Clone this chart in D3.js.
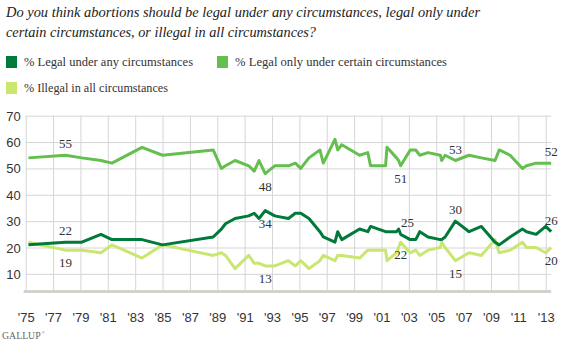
<!DOCTYPE html>
<html>
<head>
<meta charset="utf-8">
<script src="https://cdn.jsdelivr.net/npm/d3@7"></script>
<style>
  body { margin: 0; background: #fff; }
  svg { display: block; font-family: "Liberation Serif", "DejaVu Serif", serif; }
  .grid line { stroke: #d6d6d6; stroke-width: 1; }
  .grid path { display: none; }
  .axis text { fill: #333; font-size: 13px; }
  .axis path, .axis line { display: none; }
  .label { fill: #333; font-size: 13px; text-anchor: middle; }
</style>
</head>
<body>
<svg id="chart" width="565" height="351"></svg>
<script>
// survey dates (decimal years) and shares of respondents
var dates = [1975.2, 1977.9, 1979.1, 1980.5, 1981.3, 1983.5, 1985.0, 1988.7, 1989.3, 1989.6,
  1990.3, 1991.3, 1991.7, 1992.05, 1992.5, 1993.2, 1994.2, 1994.7, 1995.1, 1995.7,
  1996.5, 1996.75, 1997.6, 1997.8, 1998.1, 1999.4, 2000.0, 2000.2, 2001.3, 2001.4,
  2002.1, 2002.25, 2002.4, 2003.1, 2003.5, 2003.8, 2004.4, 2005.3, 2005.4, 2005.65,
  2006.4, 2007.4, 2008.3, 2009.3, 2009.6, 2010.4, 2011.3, 2011.6, 2012.3, 2013.0, 2013.4]

var legalAny = [21, 22, 22, 25, 23, 23, 21, 24, 27, 29,
  31, 32, 33, 31, 34, 32, 31, 33, 33, 31,
  26, 24, 22, 26, 23, 27, 26, 28, 26, 26,
  26, 27, 25, 23, 23, 26, 24, 23, 23, 24,
  30, 26, 28, 22, 21, 24, 27, 26, 25, 28, 26]

var legalCertain = [54, 55, 54, 53, 52, 58, 55, 57, 50, 51,
  53, 51, 49, 53, 48, 51, 51, 52, 50, 54,
  57, 52, 61, 57, 59, 55, 56, 51, 51, 58,
  54, 53, 51, 57, 57, 55, 56, 55, 53, 55,
  53, 55, 54, 53, 57, 55, 50, 51, 52, 52, 52]

var illegalAll = [22, 19, 19, 18, 21, 16, 21, 17, 18, 17,
  12, 17, 14, 14, 13, 13, 15, 13, 15, 12,
  15, 17, 15, 17, 17, 16, 19, 19, 19, 15,
  18, 20, 22, 18, 19, 17, 19, 20, 22, 20,
  15, 18, 17, 23, 18, 19, 22, 20, 20, 18, 20]

var seriesNames = ['% Legal under any circumstances', '% Legal only under certain circumstances', '% Illegal in all circumstances']
var seriesColors = ['#007a3a', '#64bf4f', '#c9e770']
var yTicks = [10, 20, 30, 40, 50, 60, 70]
var xTicks = d3.range(1975, 2014, 2)

// [date, value, series index, above(-1) / below(1)]
var callouts = [
  [1977.9, 55, 1, -1], [1977.9, 22, 0, -1], [1977.9, 19, 2, 1],
  [1992.5, 48, 1, 1], [1992.5, 34, 0, 1], [1992.5, 13, 2, 1],
  [2002.4, 51, 1, 1], [2002.9, 25, 0, -1], [2002.4, 22, 2, 1],
  [2006.4, 53, 1, -1], [2006.4, 30, 0, -1], [2006.4, 15, 2, 1],
  [2013.4, 52, 1, -1], [2013.4, 26, 0, -1], [2013.4, 20, 2, 1]
]

var svg = d3.select('#chart')

var x = d3.scaleLinear().domain([1975, 2013]).range([25.7, 545.7])
var y = d3.scaleLinear().domain([3.5, 70]).range([291, 115.7])
var xEnd = x(2013.4)

/*
    title + legend
*/
var title = svg.append('g')
  .style('font-style', 'italic')
  .style('font-size', '15px')
  .attr('fill', '#222')
title.append('text').attr('x', 6).attr('y', 17)
  .attr('textLength', 474).attr('lengthAdjust', 'spacingAndGlyphs')
  .text('Do you think abortions should be legal under any circumstances, legal only under')
title.append('text').attr('x', 6).attr('y', 37)
  .attr('textLength', 310).attr('lengthAdjust', 'spacingAndGlyphs')
  .text('certain circumstances, or illegal in all circumstances?')

var legendPos = [[6, 56, 169], [217, 56, 212], [6, 82, 144]]
var legend = svg.append('g').selectAll('g')
  .data(seriesNames)
  .enter().append('g')
  .attr('transform', (d, i) => `translate(${legendPos[i][0]},${legendPos[i][1]})`)
legend.append('rect')
  .attr('width', 11).attr('height', 12)
  .attr('fill', (d, i) => seriesColors[i])
legend.append('text')
  .attr('x', 18).attr('y', 10)
  .attr('fill', '#333')
  .style('font-size', '13.5px')
  .attr('textLength', (d, i) => legendPos[i][2])
  .attr('lengthAdjust', 'spacingAndGlyphs')
  .text(d => d)

/*
    grid + axes
*/
svg.append('g')
  .attr('class', 'grid')
  .attr('transform', `translate(${x(1975)},0)`)
  .call(d3.axisLeft(y).tickValues(yTicks).tickSize(-(xEnd - x(1975))).tickFormat(''))

svg.append('g')
  .attr('class', 'grid')
  .attr('transform', `translate(0,${y(3.5)})`)
  .call(d3.axisBottom(x).tickValues(xTicks).tickSize(-(y(3.5) - y(70))).tickFormat(''))

svg.append('line')
  .attr('x1', x(1975) - 2).attr('x2', xEnd)
  .attr('y1', y(3.5) + 0.5).attr('y2', y(3.5) + 0.5)
  .attr('stroke', '#d3d2cc').attr('stroke-width', 3)

svg.append('g')
  .attr('class', 'axis')
  .attr('transform', `translate(${x(1975) - 5},0)`)
  .call(d3.axisLeft(y).tickValues(yTicks).tickSize(0).tickPadding(0))
  .selectAll('text').attr('dy', '0.35em')

svg.append('g')
  .attr('class', 'axis')
  .attr('transform', `translate(0,${y(3.5)})`)
  .call(d3.axisBottom(x).tickValues(xTicks).tickSize(0).tickPadding(22)
    .tickFormat(d => "'" + String(d).slice(2)))

/*
    lines
*/
var line = d3.line()
  .x((d, i) => x(dates[i]))
  .y(d => y(d))

svg.append('g').selectAll('path')
  .data([illegalAll, legalCertain, legalAny])
  .enter().append('path')
  .attr('d', line)
  .attr('fill', 'none')
  .attr('stroke', (d, i) => seriesColors[2 - i])
  .attr('stroke-width', 3)
  .attr('stroke-linejoin', 'round')

svg.append('g').selectAll('text')
  .data(callouts)
  .enter().append('text')
  .attr('class', 'label')
  .attr('x', d => x(d[0]))
  .attr('y', d => y(d[1]) + (d[3] < 0 ? -7 : 17))
  .text(d => d[1])

/*
    footer
*/
var logo = svg.append('text')
  .attr('x', 2).attr('y', 339)
  .attr('fill', '#666')
  .style('font-size', '9.8px')
logo.append('tspan').text('GALLUP')
logo.append('tspan')
  .attr('dx', 1).attr('dy', -5)
  .style('font-size', '4px')
  .text('®')
</script>
</body>
</html>
